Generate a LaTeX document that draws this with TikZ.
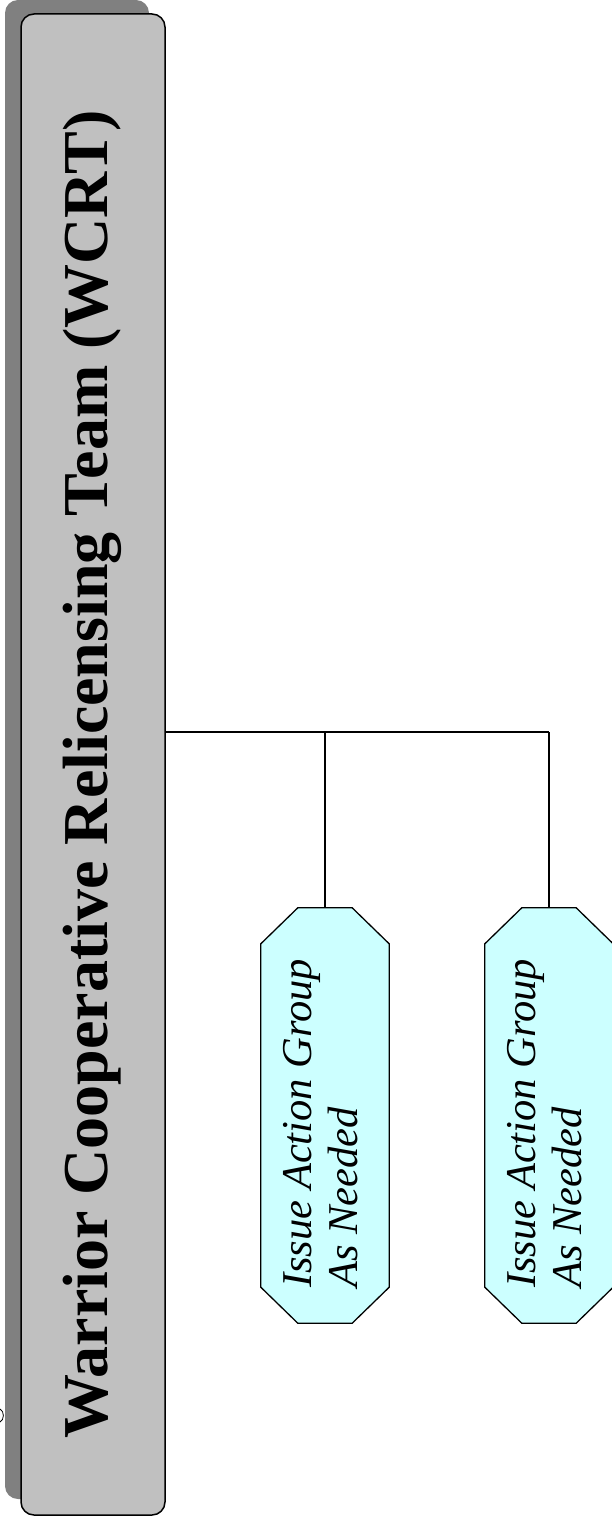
\documentclass[tikz,border=0pt]{standalone}
\usepackage{fontspec}
\setmainfont{Liberation Serif}
\usetikzlibrary{calc}
\definecolor{boxgray}{HTML}{C0C0C0}
\definecolor{shadowgray}{HTML}{808080}
\definecolor{lightcyan}{HTML}{CCFFFF}
\tikzset{
  shadowbox/.style={rectangle, rounded corners=13pt, fill=shadowgray, draw=none,
    minimum width=144pt, minimum height=1499pt, inner sep=0pt},
  mainbox/.style={rectangle, rounded corners=13pt, fill=boxgray, draw=black,
    line width=1.5pt, minimum width=144pt, minimum height=1501pt, inner sep=0pt},
  titletext/.style={rotate=90, anchor=base, inner sep=0pt,
    font=\bfseries\fontsize{64}{70}\selectfont},
  octbox/.style={rectangle, draw=none, minimum width=128pt, minimum height=415pt,
    inner sep=0pt},
  octline/.style={fill=lightcyan, draw=black, line width=1.3pt, line join=miter},
  octtext/.style={rotate=90, anchor=base west, inner sep=0pt,
    font=\itshape\fontsize{42.5}{46}\selectfont},
  conn/.style={draw=black, line width=1.3pt},
}
\newcommand\drawoctagon[1]{%
  \draw[octline] ($(#1.north west)+(37,0)$) -- ($(#1.north east)+(-37,0)$)
    -- ($(#1.north east)+(0,36)$) -- ($(#1.south east)+(0,-36)$)
    -- ($(#1.south east)+(-37,0)$) -- ($(#1.south west)+(37,0)$)
    -- ($(#1.south west)+(0,-36)$) -- ($(#1.north west)+(0,36)$) -- cycle;}
\begin{document}
\begin{tikzpicture}[x=1pt,y=-1pt]
\useasboundingbox (0,0) rectangle (612,1522);
% shadow and main box
\node[shadowbox] (wcrtshadow) at (77,749.5) {};
\node[mainbox] (wcrt) at (93,764.5) {};
\node[titletext] (title) at (107,774.5) {Warrior Cooperative Relicensing Team (WCRT)};
% junctions
\coordinate (j1) at (325,732);
\coordinate (j2) at (549,732);
% octagons
\node[octbox] (iag1) at (325,1115.5) {};
\node[octbox] (iag2) at (549,1115.5) {};
\drawoctagon{iag1}
\drawoctagon{iag2}
\node[octtext] (iag1a) at (311,1288) {Issue Action Group};
\node[octtext] (iag1b) at (357,1288) {As Needed};
\node[octtext] (iag2a) at (535,1288) {Issue Action Group};
\node[octtext] (iag2b) at (581,1288) {As Needed};
% connectors
\draw[conn] (wcrt.east |- j1) -- (j1) -- (j2);
\draw[conn] (j1) -- (iag1.north);
\draw[conn] (j2) -- (iag2.north);
% small fragment at the left edge
\draw[line width=0.8pt] (0,1409) .. controls (4.5,1411) and (4.5,1420) .. (0,1422);
\end{tikzpicture}
\end{document}
